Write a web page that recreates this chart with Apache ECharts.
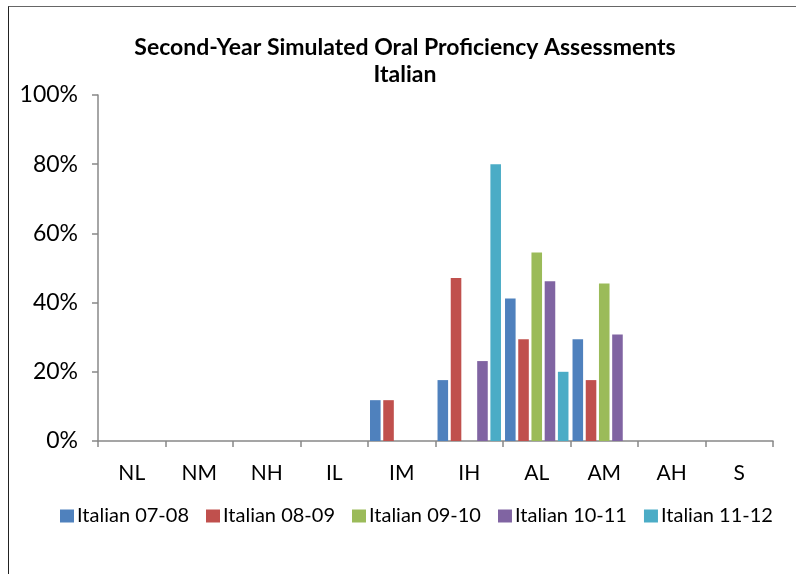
<!DOCTYPE html>
<html>
<head>
<meta charset="utf-8">
<script src="https://cdn.jsdelivr.net/npm/echarts@6/dist/echarts.min.js"></script>
<style>
html,body{margin:0;padding:0;background:#fff;}
#chart{width:796px;height:574px;}
#frame{position:absolute;left:8px;top:6px;width:800px;height:600px;border-left:1.5px solid #222;border-top:1.5px solid #666;pointer-events:none;}
</style>
</head>
<body>
<div id="frame"></div>
<div id="chart"></div>
<script>
var levels = ['NL', 'NM', 'NH', 'IL', 'IM', 'IH', 'AL', 'AM', 'AH', 'S'];
var italian0708 = [0, 0, 0, 0, 11.8, 17.6, 41.2, 29.4, 0, 0];
var italian0809 = [0, 0, 0, 0, 11.8, 47.1, 29.4, 17.6, 0, 0];
var italian0910 = [0, 0, 0, 0, 0, 0, 54.5, 45.5, 0, 0];
var italian1011 = [0, 0, 0, 0, 0, 23.1, 46.2, 30.8, 0, 0];
var italian1112 = [0, 0, 0, 0, 0, 80, 20, 0, 0, 0];

var seriesNames = ['Italian 07-08', 'Italian 08-09', 'Italian 09-10', 'Italian 10-11', 'Italian 11-12'];
var seriesData = [italian0708, italian0809, italian0910, italian1011, italian1112];
var colors = ['#4F81BD', '#C0504D', '#9BBB59', '#8064A2', '#4BACC6'];

var font = "Lato, 'Open Sans', sans-serif";
var chart = echarts.init(document.getElementById('chart'));

var series = [];
for (var i = 0; i < seriesNames.length; i++) {
    series.push({
        name: seriesNames[i],
        type: 'bar',
        data: seriesData[i],
        barGap: '25%',
        barCategoryGap: '6%',
        itemStyle: { color: colors[i] }
    });
}

chart.setOption({
    animation: false,
    color: colors,
    title: {
        text: 'Second-Year Simulated Oral Proficiency Assessments\nItalian',
        left: 400,
        textAlign: 'center',
        top: 29,
        textStyle: { fontFamily: font, fontSize: 23, fontWeight: 'bold', color: '#000', lineHeight: 27 }
    },
    legend: {
        data: seriesNames,
        bottom: 43,
        left: 55,
        itemWidth: 14,
        itemHeight: 13,
        itemGap: 17,
        icon: 'rect',
        textStyle: { fontFamily: font, fontSize: 20, color: '#000', padding: [0, 0, 0, -2] }
    },
    grid: { left: 98, right: 23, top: 95, bottom: 133, containLabel: false },
    xAxis: {
        type: 'category',
        data: levels,
        axisLine: { lineStyle: { color: '#888', width: 1.5 } },
        axisTick: { show: true, length: 6, lineStyle: { color: '#888', width: 1.5 } },
        axisLabel: { fontFamily: font, fontSize: 21, color: '#000', margin: 22 }
    },
    yAxis: {
        type: 'value',
        min: 0,
        max: 100,
        interval: 20,
        axisLine: { show: true, lineStyle: { color: '#888', width: 1.5 } },
        axisTick: { show: true, length: 6, lineStyle: { color: '#888', width: 1.5 } },
        splitLine: { show: false },
        axisLabel: { formatter: '{value}%', fontFamily: font, fontSize: 23, color: '#000', margin: 20 }
    },
    series: series
});
</script>
</body>
</html>
